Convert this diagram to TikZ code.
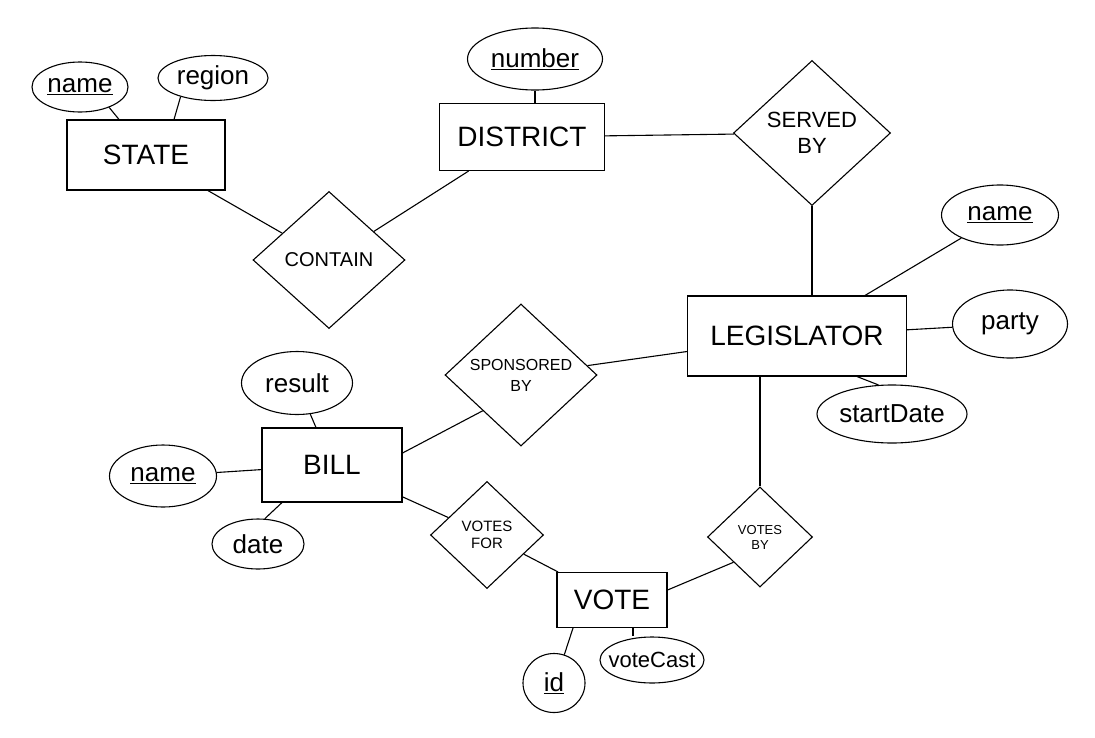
\documentclass[tikz,border=0pt]{standalone}
\usepackage{fontspec}
\setmainfont{Liberation Sans}
\usetikzlibrary{shapes.geometric}

\tikzset{
  entity/.style={draw, line width=1.1pt, rectangle, inner sep=0pt, font=\fontsize{28}{30}\selectfont},
  attrib/.style={draw, line width=1.1pt, ellipse, inner xsep=-12pt, inner ysep=0pt, font=\fontsize{26}{28}\selectfont},
  relation/.style={draw, line width=1.1pt, diamond, inner sep=0pt, align=center},
  link/.style={line width=1.1pt}
}

\begin{document}
\begin{tikzpicture}[x=1pt,y=-1pt]
\useasboundingbox (0,0) rectangle (1095,737);

% Entities
\node[entity, minimum width=158pt, minimum height=70pt] (state) at (146,155) {STATE};
\node[entity, minimum width=165pt, minimum height=67pt] (district) at (522,137) {DISTRICT};
\node[entity, minimum width=219pt, minimum height=80pt] (legislator) at (797,336) {LEGISLATOR};
\node[entity, minimum width=140pt, minimum height=74pt] (bill) at (332,465) {BILL};
\node[entity, minimum width=110pt, minimum height=55pt] (vote) at (612,600) {VOTE};

% Relationships
\node[relation, minimum width=152pt, minimum height=137pt, font=\fontsize{20}{22}\selectfont] (contain) at (329,260) {CONTAIN};
\node[relation, minimum width=157pt, minimum height=145pt, font=\fontsize{22}{26}\selectfont] (servedby) at (812,133) {SERVED\\BY};
\node[relation, minimum width=152pt, minimum height=142pt, font=\fontsize{16}{21}\selectfont] (sponsoredby) at (521,375) {SPONSORED\\BY};
\node[relation, minimum width=113pt, minimum height=107pt, font=\fontsize{15}{17}\selectfont] (votesfor) at (487,535) {VOTES\\FOR};
\node[relation, minimum width=105pt, minimum height=100pt, font=\fontsize{13}{15}\selectfont] (votesby) at (760,537) {VOTES\\BY};

% Attributes
\node[attrib, minimum width=96pt, minimum height=50pt] (sname) at (80,87) {\underline{name}};
\node[attrib, minimum width=110pt, minimum height=45pt] (region) at (213,78) {region};
\node[attrib, minimum width=135pt, minimum height=62pt] (number) at (535,59) {\underline{number}};
\node[attrib, minimum width=117pt, minimum height=60pt] (lname) at (1000,215) {\underline{name}};
\node[attrib, minimum width=115pt, minimum height=68pt] (party) at (1010,324) {party};
\node[attrib, minimum width=150pt, minimum height=58pt] (startdate) at (892,414) {startDate};
\node[attrib, minimum width=111pt, minimum height=63pt] (result) at (297,383) {result};
\node[attrib, minimum width=107pt, minimum height=62pt] (bname) at (163,476) {\underline{name}};
\node[attrib, minimum width=92pt, minimum height=50pt] (date) at (258,544) {date};
\node[attrib, minimum width=62pt, minimum height=59pt] (id) at (554,683) {\underline{id}};
\node[attrib, minimum width=104pt, minimum height=46pt, font=\fontsize{22}{24}\selectfont] (votecast) at (652,660) {voteCast};

% Attribute links
\draw[link] (sname.-35) -- ([xshift=-27pt]state.north);
\draw[link] (region.-150) -- ([xshift=28pt]state.north);
\draw[link] (number.south) -- (number.south |- district.north);
\draw[link] (legislator) -- (lname);
\draw[link] (legislator) -- (party);
\draw[link] ([xshift=60pt]legislator.south) -- (startdate.115);
\draw[link] (result) -- (bill);
\draw[link] (bname) -- (bill);
\draw[link] ([xshift=-50pt]bill.south) -- (date.75);
\draw[link] ([xshift=-39pt]vote.south) -- (id.70);
\draw[link] ([xshift=21pt]vote.south) -- ([xshift=21pt]vote.south |- votecast.north);

% Relationship links
\draw[link] (state) -- (contain);
\draw[link] (district) -- (contain);
\draw[link] (district) -- (servedby);
\draw[link] (servedby.south) -- (servedby.south |- legislator.north);
\draw[link] (sponsoredby) -- (legislator);
\draw[link] ([yshift=12pt]bill.east) -- (sponsoredby.south west);
\draw[link] (bill) -- (votesfor);
\draw[link] (votesfor) -- (vote);
\draw[link] ([yshift=10pt]vote.east) -- (votesby.south west);
\draw[link] (votesby.north) -- (votesby.north |- legislator.south);

\end{tikzpicture}
\end{document}
